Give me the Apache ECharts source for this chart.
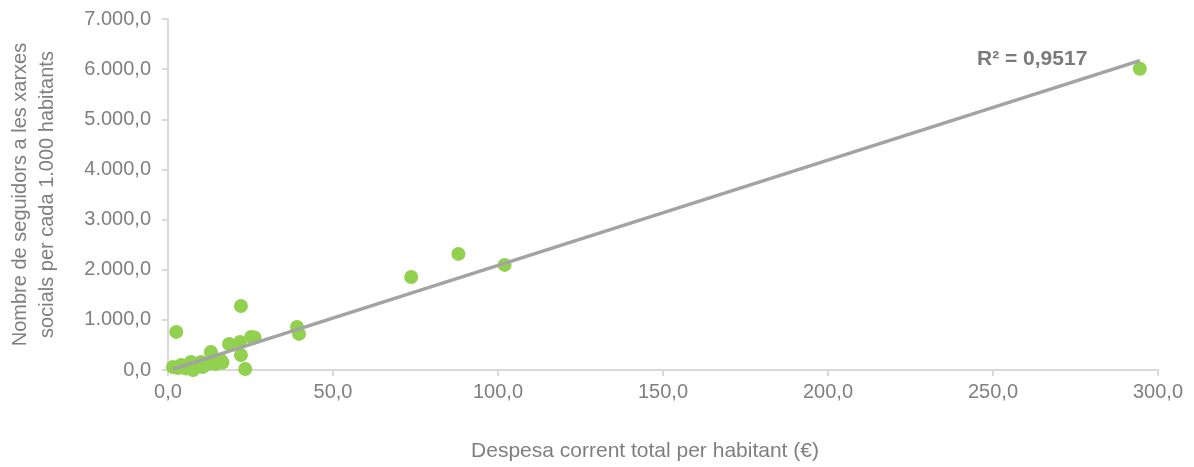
<!DOCTYPE html>
<html>
<head>
<meta charset="utf-8">
<script src="https://cdn.jsdelivr.net/npm/echarts@6/dist/echarts.min.js"></script>
<style>
  html, body { margin: 0; padding: 0; background: #fff; }
  #chart { width: 1194px; height: 467px; }
</style>
</head>
<body>
<div id="chart"></div>
<script>
// despesa corrent per habitant (€) vs seguidors per 1.000 habitants
const despesa = [
  1.5, 3, 4, 5.5, 7, 7.6, 8.5, 10, 10.5, 12, 13, 13.6, 14.5, 16, 16.5, 2.5,
  18.5, 21.8, 22.1, 22.1, 23.4, 25.2, 26.2, 39.1, 39.7, 73.7, 88, 102, 294.5
];
const seguidors = [
  60, 40, 100, 30, 160, 0, 60, 160, 60, 120, 360, 260, 120, 200, 150, 760,
  520, 560, 1277, 300, 20, 660, 650, 860, 720, 1856, 2315, 2096, 6008
];
const trendSlope = 21.0;
const trendIntercept = -15;
const r2Label = 'R² = 0,9517';
const xTicks = { min: 0, max: 300, interval: 50 };
const yTicks = { min: 0, max: 7000, interval: 1000 };

const points = despesa.map((x, i) => [x, seguidors[i]]);
const xMin = Math.min(...despesa), xMax = Math.max(...despesa);
const trend = [xMin, xMax].map(x => [x, trendIntercept + trendSlope * x]);

function fmt(v) {
  const parts = v.toFixed(1).split('.');
  parts[0] = parts[0].replace(/\B(?=(\d{3})+(?!\d))/g, '.');
  return parts.join(',');
}

const grey = '#7f7f7f';
const font = 'Liberation Sans, Arial, sans-serif';

const chart = echarts.init(document.getElementById('chart'));
chart.setOption({
  animation: false,
  textStyle: { fontFamily: font },
  grid: { left: 168, right: 36, top: 19, bottom: 97, outerBoundsMode: 'none' },
  xAxis: {
    type: 'value',
    min: xTicks.min, max: xTicks.max, interval: xTicks.interval,
    name: 'Despesa corrent total per habitant (€)',
    nameLocation: 'middle',
    nameGap: 71,
    nameTextStyle: { color: grey, fontSize: 21, fontFamily: font, padding: [0, 36, 0, 0] },
    axisLine: { lineStyle: { color: '#d9d9d9', width: 2 } },
    axisTick: { show: true, length: 6, lineStyle: { color: '#d9d9d9', width: 2 } },
    splitLine: { show: false },
    axisLabel: { color: grey, fontSize: 20, margin: 12, formatter: fmt }
  },
  yAxis: {
    type: 'value',
    min: yTicks.min, max: yTicks.max, interval: yTicks.interval,
    name: 'Nombre de seguidors a les xarxes\nsocials per cada 1.000 habitants',
    nameLocation: 'middle',
    nameGap: 107,
    nameRotate: 90,
    nameTextStyle: { color: grey, fontSize: 20, fontFamily: font, lineHeight: 27 },
    axisLine: { show: true, lineStyle: { color: '#d9d9d9', width: 2 } },
    axisTick: { show: true, length: 6, lineStyle: { color: '#d9d9d9', width: 2 } },
    splitLine: { show: false },
    axisLabel: { color: grey, fontSize: 20, margin: 17, formatter: fmt }
  },
  series: [
    {
      type: 'scatter',
      data: points,
      symbolSize: 14,
      itemStyle: { color: '#92d050', opacity: 1 },
      z: 2
    },
    {
      type: 'line',
      data: trend,
      symbol: 'none',
      lineStyle: { color: '#a3a3a3', width: 3.5 },
      z: 3
    }
  ],
  graphic: [{
    type: 'text',
    left: 977,
    top: 49,
    style: { text: r2Label, fill: '#7a7a7a', font: 'bold 21px ' + font }
  }]
});
</script>
</body>
</html>
